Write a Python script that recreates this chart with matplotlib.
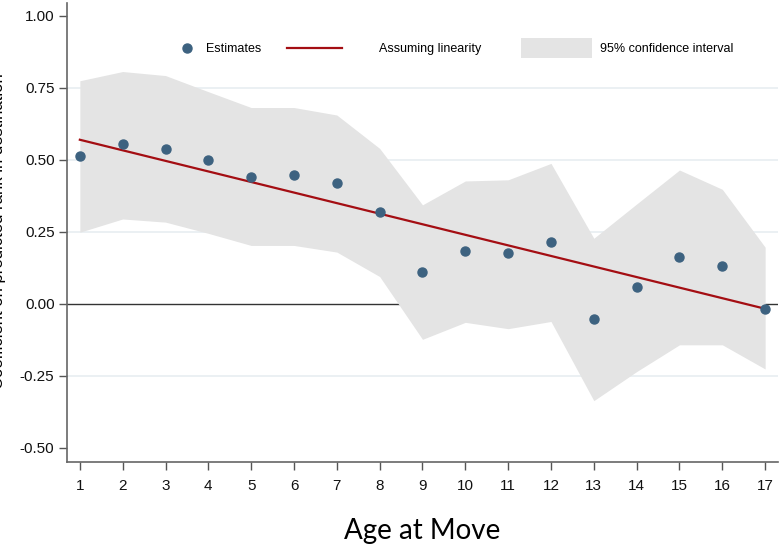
import numpy as np
import matplotlib
matplotlib.use('Agg')
import matplotlib.pyplot as plt
from matplotlib.patches import Patch, Rectangle
from matplotlib.lines import Line2D
from matplotlib.legend_handler import HandlerBase

plt.rcParams['font.family'] = ['Liberation Sans', 'DejaVu Sans']

# Age at move and the estimated coefficients with 95% bounds
age = np.arange(1, 18)
estimates = [0.514, 0.554, 0.539, 0.499, 0.442, 0.446, 0.420, 0.319, 0.111,
             0.185, 0.176, 0.216, -0.053, 0.060, 0.163, 0.130, -0.018]
ci_upper = [0.775, 0.807, 0.793, 0.737, 0.682, 0.682, 0.656, 0.540, 0.344,
            0.427, 0.431, 0.488, 0.228, 0.347, 0.465, 0.398, 0.197]
ci_lower = [0.249, 0.295, 0.284, 0.245, 0.203, 0.203, 0.180, 0.095, -0.123,
            -0.064, -0.086, -0.061, -0.336, -0.235, -0.142, -0.142, -0.226]
y_ticks = [-0.50, -0.25, 0.00, 0.25, 0.50, 0.75, 1.00]

dot_color = '#3d6280'
line_color = '#a40e13'
band_color = '#e4e4e4'

PX = 0.72  # points per pixel at dpi 100


class KeyLine(HandlerBase):
    # line key drawn to the left of a narrow handle box
    def create_artists(self, legend, orig, xd, yd, w, h, fs, trans):
        y = h / 2 - yd
        ln = Line2D([-62 * PX - xd, -7 * PX - xd], [y, y],
                    color=orig.get_color(), lw=orig.get_linewidth())
        ln.set_transform(trans)
        return [ln]


class KeyBox(HandlerBase):
    # wide grey swatch ending at the handle box edge
    def create_artists(self, legend, orig, xd, yd, w, h, fs, trans):
        hh = 20 * PX
        r = Rectangle((w - 71 * PX - xd, h / 2 - yd - hh / 2), 71 * PX, hh,
                      facecolor=orig.get_facecolor(), edgecolor='none')
        r.set_transform(trans)
        return [r]


fig = plt.figure(figsize=(7.81, 5.48), dpi=100)
ax = fig.add_axes([67 / 781, 86 / 548, 711 / 781, 459 / 548])

# light grid and zero line sit under the band
for yv in [-0.25, 0.25, 0.50, 0.75]:
    ax.axhline(yv, color='#e8eef1', lw=1.2, zorder=0)
ax.axhline(0, color='#333333', lw=1.0, zorder=0.5)

ax.fill_between(age, ci_lower, ci_upper, color=band_color, lw=0, zorder=1)

# linear fit through the estimates
slope, intercept = np.polyfit(age, estimates, 1)
ax.plot(age, intercept + slope * age, color=line_color, lw=1.6, zorder=2)

ax.plot(age, estimates, 'o', color=dot_color, ms=6.5, zorder=3)

ax.set_xlim(0.70, 17.30)
ax.set_ylim(-0.549, 1.045)
ax.set_xticks(age)
ax.set_yticks(y_ticks)
ax.set_yticklabels(['%.2f' % v for v in y_ticks])

for side in ['top', 'right']:
    ax.spines[side].set_visible(False)
for side in ['left', 'bottom']:
    ax.spines[side].set_color('#666666')
    ax.spines[side].set_linewidth(1.2)
ax.tick_params(axis='both', direction='out', length=6, width=1,
               color='#555555', labelsize=11, labelcolor='#111111')
ax.tick_params(axis='x', pad=6)
ax.tick_params(axis='y', pad=3)

ax.set_ylabel('Coefficient on predicted rank in destination', fontsize=12)
ax.yaxis.set_label_coords(-0.086, 0.503)
ax.set_xlabel('Age at Move', fontsize=20, family='Lato', labelpad=18)

line_key = Line2D([], [], color=line_color, lw=1.6)
band_key = Patch(facecolor=band_color, edgecolor='none')
handles = [
    Line2D([], [], ls='none', marker='o', color=dot_color, ms=6.5),
    line_key,
    band_key,
]
labels = ['Estimates', 'Assuming linearity', '95% confidence interval']
leg = ax.legend(handles, labels, loc='center left',
                bbox_to_anchor=((176 - 67) / 711, (462 - 49) / 459),
                ncol=3, fontsize=9, frameon=False,
                handlelength=22 * PX / 9, handletextpad=8 * PX / 9,
                columnspacing=88 * PX / 9, borderpad=0, borderaxespad=0,
                handler_map={line_key: KeyLine(), band_key: KeyBox()})

fig.savefig('out.png', dpi=100)
